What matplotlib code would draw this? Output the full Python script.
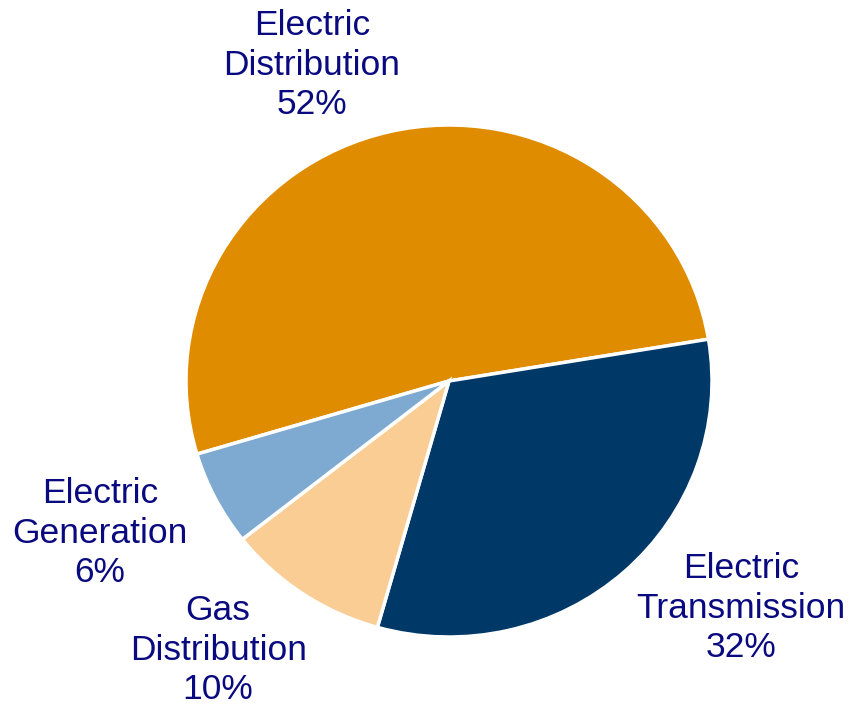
import matplotlib.pyplot as plt

labels = ['Electric\nDistribution', 'Electric\nTransmission', 'Gas\nDistribution', 'Electric\nGeneration']
shares = [52, 32, 10, 6]
colors = ['#E08C00', '#003868', '#F9CD94', '#7EA9D1']
# label anchor points in pie-radius units (centre = 0,0)
label_pos = [(-0.521, 1.234), (1.110, -0.887), (-0.878, -1.051), (-1.327, -0.594)]

plt.rcParams['font.family'] = ['Liberation Sans', 'DejaVu Sans']

fig = plt.figure(figsize=(8.59, 7.09), dpi=100)
ax = fig.add_axes([0, 0, 1, 1])

ax.pie(shares, colors=colors, startangle=196.6, counterclock=False,
       radius=1.0, center=(0, 0), frame=True,
       wedgeprops=dict(edgecolor='white', linewidth=2.5))

for lab, val, (x, y) in zip(labels, shares, label_pos):
    ax.text(x, y, f'{lab}\n{val}%', ha='center', va='center',
            fontsize=25.5, color='#0A0A80', linespacing=1.25)

# pie is drawn slightly squashed vertically in the original
rx, ry = 263.0, 256.0
ax.set_xlim(-449 / rx, (859 - 449) / rx)
ax.set_ylim(-(709 - 381) / ry, 381 / ry)
ax.set_aspect('auto')
ax.axis('off')

fig.savefig('out.png', dpi=100)
